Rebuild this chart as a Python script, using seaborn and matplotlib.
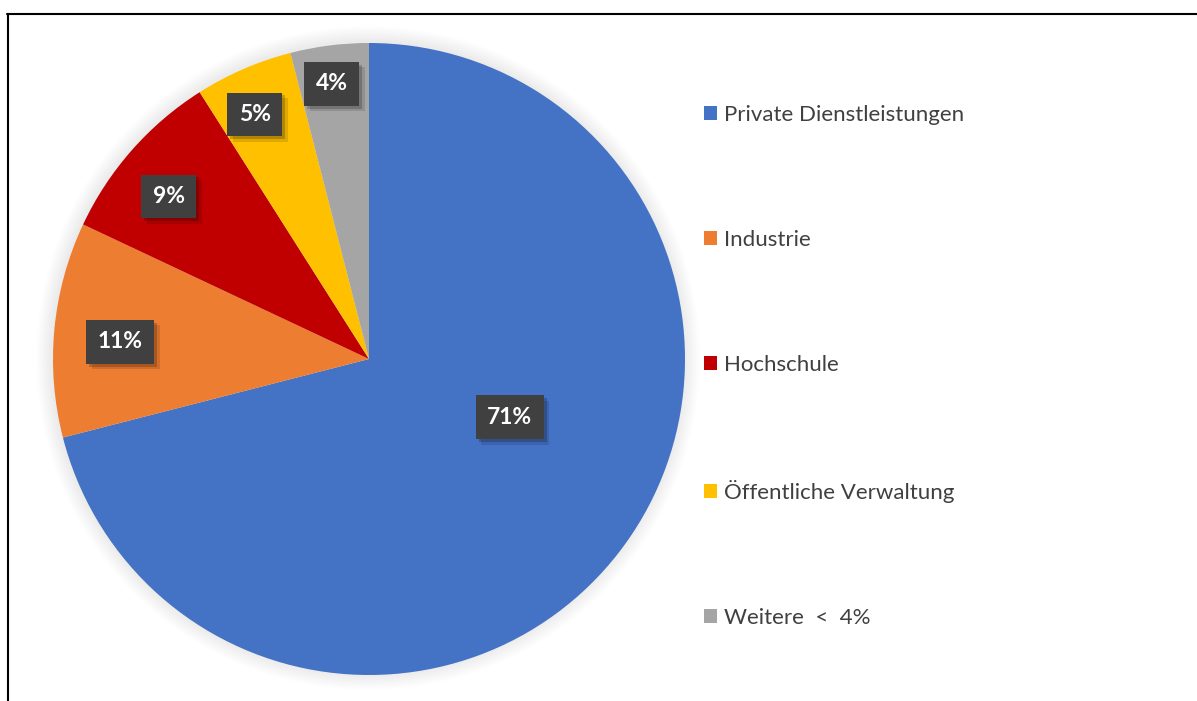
import numpy as np
import matplotlib
matplotlib.use("Agg")
import matplotlib.pyplot as plt
import matplotlib.patheffects as pe
import matplotlib.transforms as mtransforms
from matplotlib.lines import Line2D
from matplotlib.patches import Circle
import seaborn as sns

# data
categories = ["Private Dienstleistungen", "Industrie", "Hochschule",
              "Öffentliche Verwaltung", "Weitere  <  4%"]
shares = [71, 11, 9, 5, 4]
colors = ["#4472C4", "#ED7D31", "#C00000", "#FFC000", "#A5A5A5"]

# label placement (fraction of radius, angle shift in degrees)
label_r = [0.48, 0.79, 0.82, 0.86, 0.885]
label_shift = [16, 1, 2, 1.5, 0.5]

sns.set_theme(style="white")
plt.rcParams["font.family"] = ["Lato", "DejaVu Sans"]

fig = plt.figure(figsize=(11.97, 7.01), dpi=100)
fig.patch.set_facecolor("white")
ax = fig.add_axes([0, 0, 1, 1])

# soft shadow behind the pie
for i in range(10):
    ax.add_patch(Circle((-0.003, 0.003), 1.0 + 0.005 * (10 - i), color="black",
                        alpha=0.008, lw=0, zorder=0, clip_on=False))

wedges, _ = ax.pie(shares, colors=colors, startangle=90, counterclock=False,
                   radius=1.0, wedgeprops=dict(linewidth=0))
for w in wedges:
    w.set_zorder(2)

ax.set_xlim(-1.05, 1.05)
ax.set_ylim(-1.05, 1.05)
ax.set_position([(369 - 316 * 1.05) / 1197, (701 - 359 - 316 * 1.05) / 701,
                 632 * 1.05 / 1197, 632 * 1.05 / 701])
ax.axis("off")

# nudge labels a couple of pixels down
lab_trans = mtransforms.offset_copy(ax.transData, fig=fig, x=0, y=-2, units="dots")

for w, s, r, sh in zip(wedges, shares, label_r, label_shift):
    ang = np.deg2rad((w.theta1 + w.theta2) / 2 + sh)
    t = ax.text(r * np.cos(ang), r * np.sin(ang), f"{s}%", ha="center", va="center",
                color="white", fontsize=16.5, fontweight="bold", zorder=5,
                family=["Lato", "DejaVu Sans"], transform=lab_trans,
                bbox=dict(boxstyle="square,pad=0.5", facecolor="#404040",
                          edgecolor="none", linewidth=0))
    t.get_bbox_patch().set_path_effects(
        [pe.SimplePatchShadow(offset=(4, -4), shadow_rgbFace="black", alpha=0.12),
         pe.SimplePatchShadow(offset=(2, -2), shadow_rgbFace="black", alpha=0.2),
         pe.Normal()])

handles = [plt.Rectangle((0, 0), 1, 1, facecolor=c, edgecolor="none") for c in colors]
leg = fig.legend(handles, categories, loc="upper left",
                 bbox_to_anchor=(704 / 1197, 1 - 105 / 701), frameon=False,
                 fontsize=16, labelcolor="#404040", handlelength=0.6,
                 handleheight=0.6, handletextpad=0.3, labelspacing=4.72,
                 borderaxespad=0, borderpad=0)

# frame lines (top and left only)
fig.add_artist(Line2D([7 / 1197, 1], [1 - 14 / 701, 1 - 14 / 701],
                      transform=fig.transFigure, color="black", lw=1.5))
fig.add_artist(Line2D([8 / 1197, 8 / 1197], [0, 1 - 14 / 701],
                      transform=fig.transFigure, color="black", lw=1.5))

fig.savefig("out.png", dpi=100, facecolor="white")
